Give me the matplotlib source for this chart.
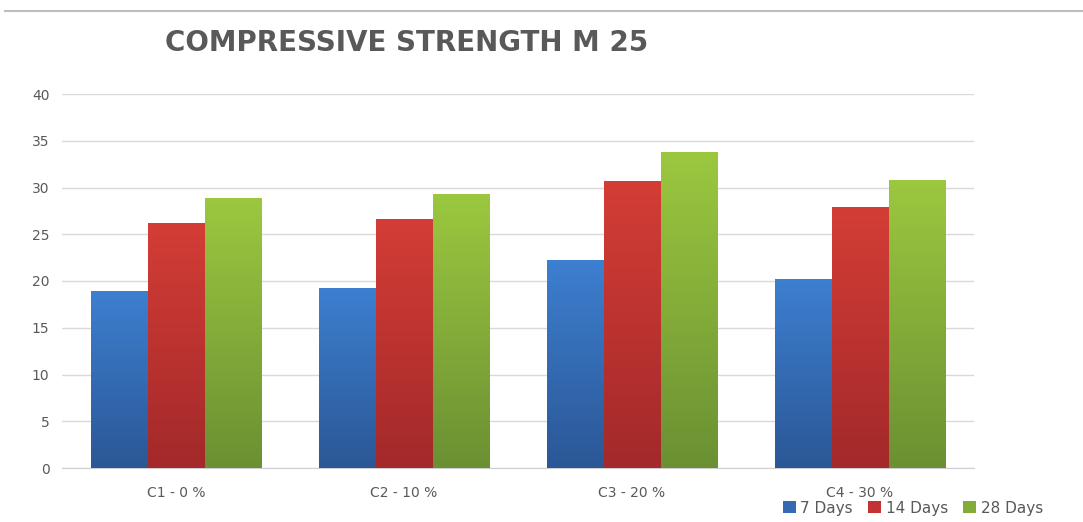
import numpy as np
import matplotlib
matplotlib.use("Agg")
import matplotlib.pyplot as plt
from matplotlib.colors import LinearSegmentedColormap
from matplotlib.lines import Line2D
from matplotlib.patches import Patch

categories = ["C1 - 0 %", "C2 - 10 %", "C3 - 20 %", "C4 - 30 %"]
series_names = ["7 Days", "14 Days", "28 Days"]
days7 = [18.9, 19.2, 22.2, 20.2]
days14 = [26.2, 26.6, 30.6, 27.9]
days28 = [28.8, 29.3, 33.7, 30.8]
yticks = [0, 5, 10, 15, 20, 25, 30, 35, 40]

series = [days7, days14, days28]
top_colors = ["#3d7fd0", "#d43d36", "#9bc83f"]
bot_colors = ["#2b5796", "#a3292a", "#6b9033"]
mid_colors = ["#3569b4", "#c23431", "#83ab39"]

fig = plt.figure(figsize=(10.83, 5.22), dpi=100)
ax = fig.add_axes([62/1083, (522-468)/522, (974-62)/1083, (468-94)/522])

x = np.arange(len(categories))
w = 0.25
grey = "#595959"
for i, vals in enumerate(series):
    bars = ax.bar(x + (i - 1) * w, vals, w, color="none", edgecolor="none", zorder=3)
    cmap = LinearSegmentedColormap.from_list("g%d" % i, [bot_colors[i], top_colors[i]])
    grad = np.linspace(0, 1, 256).reshape(-1, 1)
    for b in bars:
        bx, bw, bh = b.get_x(), b.get_width(), b.get_height()
        ax.imshow(grad, cmap=cmap, origin="lower", aspect="auto",
                  extent=[bx, bx + bw, 0, bh], zorder=3, interpolation="bicubic")

ax.set_xlim(-0.5, len(categories) - 0.5)
ax.set_ylim(0, 40)
ax.set_yticks(yticks)
ax.set_xticks(x)
ax.set_xticklabels(categories)
ax.grid(axis="y", color="#d9d9d9", linewidth=1, zorder=0)
for s in ["top", "right", "left"]:
    ax.spines[s].set_visible(False)
ax.spines["bottom"].set_color("#d0d0d0")
ax.tick_params(axis="both", length=0, colors=grey, labelsize=10)
ax.tick_params(axis="y", pad=9)
ax.tick_params(axis="x", pad=13)
for lab in ax.get_xticklabels() + ax.get_yticklabels():
    lab.set_color(grey)

fig.text(165/1083, 1 - 43/522, "COMPRESSIVE STRENGTH M 25", fontsize=20,
         fontweight="bold", color=grey, family="DejaVu Sans", va="center", ha="left")

fig.add_artist(Line2D([5/1083, 1], [1 - 11/522, 1 - 11/522], color="#bdbdbd", linewidth=1.5))

handles = [Patch(facecolor=mid_colors[i], edgecolor="none") for i in range(3)]
fig.legend(handles, series_names, loc="center", bbox_to_anchor=(913/1083, 1 - 508/522),
           ncol=3, frameon=False, fontsize=11, handlelength=0.85, handleheight=0.85,
           handletextpad=0.3, columnspacing=1.0, labelcolor=grey,
           prop={"family": "DejaVu Sans", "size": 11})

fig.savefig("out.png", dpi=100, facecolor="white")
